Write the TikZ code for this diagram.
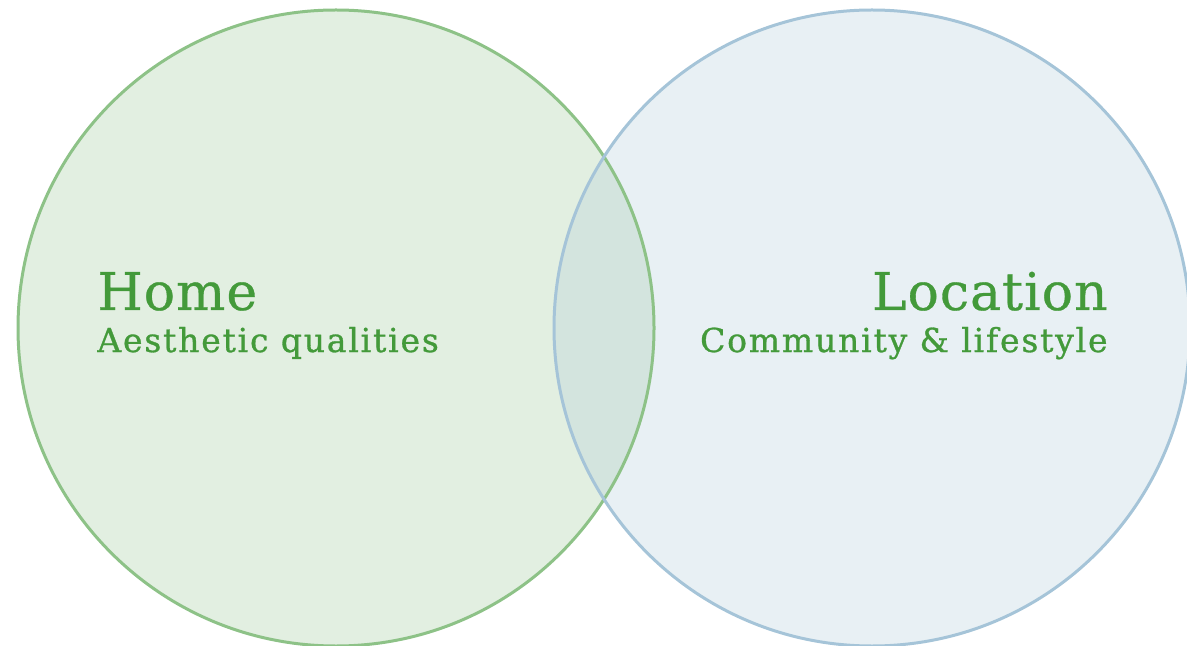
\documentclass[tikz,border=0pt]{standalone}
\usepackage{fontspec}
\setmainfont{DejaVu Serif}
\newfontfamily\titlefont[LetterSpace=2,FakeBold=0.6]{DejaVu Serif}
\newfontfamily\subfont[LetterSpace=5.5,FakeBold=0.9]{DejaVu Serif}
\usepackage{tikz}

\definecolor{homeline}{RGB}{141,194,135}
\definecolor{homefill}{RGB}{226,239,225}
\definecolor{locline}{RGB}{165,196,216}
\definecolor{locfill}{RGB}{232,240,244}
\definecolor{bothfill}{RGB}{211,228,222}
\definecolor{labelgreen}{RGB}{67,154,58}

\begin{document}
\begin{tikzpicture}[
  x=0.5pt, y=-0.5pt,
  ring/.style={line width=1.5pt},
  title/.style={text=labelgreen, inner sep=0pt, font=\titlefont\fontsize{26}{30}\selectfont},
  sub/.style={text=labelgreen, inner sep=0pt, font=\subfont\fontsize{16.5}{20}\selectfont}]
  \useasboundingbox (0,0) rectangle (1187,646);
  \coordinate (hc) at (336,328);
  \coordinate (lc) at (872,328);
  % fills first, then the shared lens, then both outlines on top
  \fill[homefill] (hc) circle (318);
  \fill[locfill] (lc) circle (318);
  \begin{scope}
    \clip (hc) circle (318);
    \fill[bothfill] (lc) circle (318);
  \end{scope}
  \draw[ring, homeline] (hc) circle (318);
  \draw[ring, locline] (lc) circle (318);
  % labels
  \node[title, anchor=base west] (home) at (97,310) {Home};
  \node[sub, anchor=base west] (homesub) at (97,352) {Aesthetic qualities};
  \node[title, anchor=base east] (loc) at (1108,310) {Location};
  \node[sub, anchor=base east] (locsub) at (1108,352) {Community \& lifestyle};
\end{tikzpicture}
\end{document}
